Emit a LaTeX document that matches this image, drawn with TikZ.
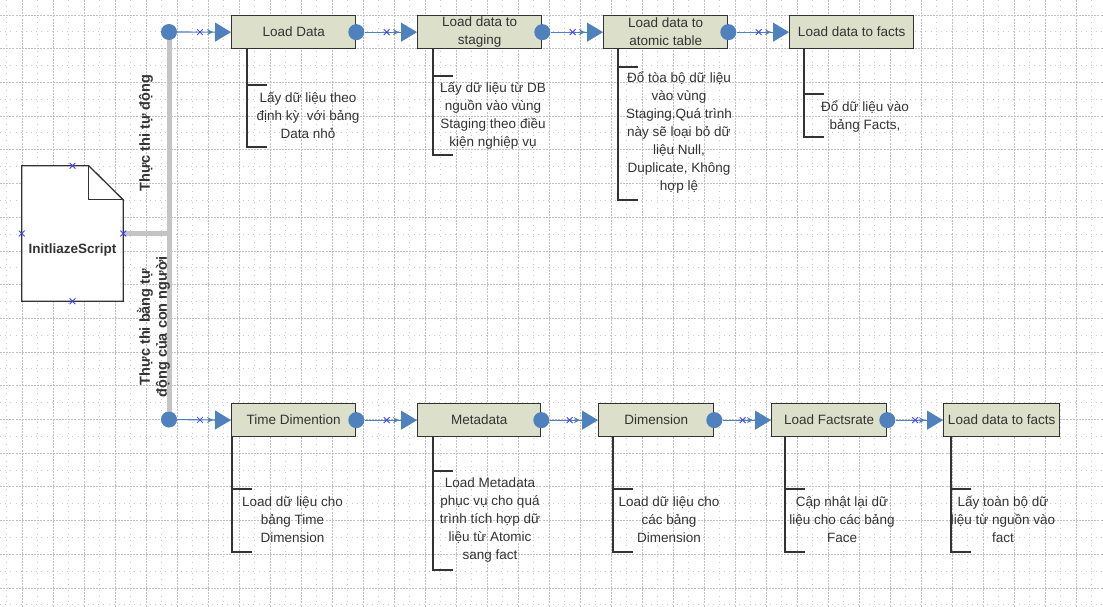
\documentclass[tikz,border=0pt]{standalone}
\usepackage{fontspec}
\setmainfont{Liberation Sans}
\usetikzlibrary{arrows.meta,shapes.misc,calc}

\definecolor{boxfill}{HTML}{DCDFC9}
\definecolor{flowblue}{HTML}{4F81BD}
\definecolor{ink}{HTML}{333333}
\definecolor{railgray}{HTML}{C4C4C4}
\definecolor{gridline}{HTML}{C0C0C0}
\definecolor{griddot}{HTML}{CACACA}
\definecolor{markblue}{HTML}{4040FF}

\begin{document}
\begin{tikzpicture}[x=1pt,y=-1pt,
  font=\fontsize{13.5}{18}\selectfont,
  gridmajor/.style={draw=gridline, line width=0.8pt, dash pattern=on 2pt off 1.1pt},
  gridminorh/.style={draw=griddot, line width=0.9pt, dash pattern=on 1pt off 4.17pt},
  gridminorv/.style={draw=griddot, line width=0.9pt, dash pattern=on 1pt off 4.62pt},
  task/.style={draw=ink, line width=1.3pt, fill=boxfill, text=ink, minimum height=33pt,
               inner sep=0pt, anchor=north west, align=center},
  port/.style={circle, fill=flowblue, minimum size=16pt, inner sep=0pt},
  flow/.style={draw=flowblue, line width=1.1pt,
               -{Stealth[length=6pt,width=6pt,sep=2pt]Triangle[length=16pt,width=19pt]}},
  xmark/.style={cross out, draw=markblue, line width=0.8pt, minimum size=5pt, inner sep=0pt},
  bracket/.style={draw=ink, line width=1.3pt},
  note/.style={text=ink, align=center, inner sep=0pt},
  rail/.style={draw=railgray, line width=5pt},
  sidelabel/.style={font=\fontsize{14.5}{17}\selectfont\bfseries, text=ink, rotate=90,
                    align=center, inner sep=0pt}
]
\useasboundingbox (0,0) rectangle (1103,607);
\fill[white] (0,0) rectangle (1103,607);

% background grid
\foreach \k in {0,...,35} \draw[gridminorv] ({6.5+31*\k},0) -- ({6.5+31*\k},607);
\foreach \k in {0,...,17} \draw[gridminorh] (0,{31.85+33.7*\k}) -- (1103,{31.85+33.7*\k});
\foreach \k in {0,...,34} \draw[gridmajor] ({22+31*\k},0) -- ({22+31*\k},607);
\foreach \k in {0,...,17} \draw[gridmajor] (0,{15+33.7*\k}) -- (1103,{15+33.7*\k});

% start points of the two flows and the rail joining them
\coordinate (s0) at (169,32);
\coordinate (s1) at (169,419.5);
\node[minimum width=101pt, minimum height=135pt, inner sep=0pt] (doc) at (72.5,233.5) {};
\draw[rail] (s0) -- (s1);
\draw[rail] (doc.east) -- (doc.east -| s0);

% script document
\draw[draw=ink, line width=1.3pt, fill=white, line join=miter]
  (doc.north west) -- ++(67,0) -- ($(doc.north east)+(0,34)$) -- (doc.south east)
  -- (doc.south west) -- cycle;
\draw[draw=ink, line width=1.3pt] ($(doc.north west)+(67,0)$) -- ++(0,34) -- ++(34,0);
\node[font=\fontsize{13.5}{16}\selectfont\bfseries, text=ink] (doctext) at (72.5,250) {InitliazeScript};
\node[xmark] (dn) at (doc.north) {};
\node[xmark] (dw) at (doc.west) {};
\node[xmark] (de) at (doc.east) {};
\node[xmark] (ds) at (doc.south) {};

% side labels
\node[sidelabel] (auto) at (146,133) {Thực thi tự động};
\node[sidelabel] (manual) at (153.5,327) {Thực thi bằng tự\\động của con người};

% upper flow
\node[task, minimum width=124pt] (b1) at (231,15) {Load Data};
\node[task, minimum width=124pt] (b2) at (417,15) {Load data to\\staging};
\node[task, minimum width=124pt] (b3) at (603,15) {Load data to\\atomic table};
\node[task, minimum width=124pt] (b4) at (789,15) {Load data to facts};

\node[port] (p0) at (s0) {};
\node[port] (p1) at (b1.east) {};
\node[port] (p2) at (b2.east) {};
\node[port] (p3) at (b3.east) {};

\draw[flow] (p0) -- (b1.west);
\draw[flow] (p1) -- (b2.west);
\draw[flow] (p2) -- (b3.west);
\draw[flow] (p3) -- (b4.west);
\node[xmark] (x1) at ($(p0.center)!0.5!(b1.west)$) {};
\node[xmark] (x2) at ($(p1.center)!0.5!(b2.west)$) {};
\node[xmark] (x3) at ($(p2.center)!0.5!(b3.west)$) {};
\node[xmark] (x4) at ($(p3.center)!0.5!(b4.west)$) {};

% lower flow
\node[task, minimum width=124pt] (c1) at (231,403) {Time Dimention};
\node[task, minimum width=123pt] (c2) at (417,403) {Metadata};
\node[task, minimum width=115pt] (c3) at (598,403) {Dimension};
\node[task, minimum width=115pt] (c4) at (771,403) {Load Factsrate};
\node[task, minimum width=116pt] (c5) at (943,403) {Load data to facts};

\node[port] (q0) at (s1) {};
\node[port] (q1) at (c1.east) {};
\node[port] (q2) at (c2.east) {};
\node[port] (q3) at (c3.east) {};
\node[port] (q4) at (c4.east) {};

\draw[flow] (q0) -- (c1.west);
\draw[flow] (q1) -- (c2.west);
\draw[flow] (q2) -- (c3.west);
\draw[flow] (q3) -- (c4.west);
\draw[flow] (q4) -- (c5.west);
\node[xmark] (y1) at ($(q0.center)!0.5!(c1.west)$) {};
\node[xmark] (y2) at ($(q1.center)!0.5!(c2.west)$) {};
\node[xmark] (y3) at ($(q2.center)!0.5!(c3.west)$) {};
\node[xmark] (y4) at ($(q3.center)!0.5!(c4.west)$) {};
\node[xmark] (y5) at ($(q4.center)!0.5!(c5.west)$) {};

% annotations of the upper flow
\draw[bracket] ([xshift=16pt]b1.south west) -- (247,147) -- (267,147);
\draw[bracket] (247,85) -- (267,85);
\node[note] (n1) at (308,115) {Lấy dữ liệu theo\\định kỳ\ \ với bảng\\Data nhỏ};

\draw[bracket] ([xshift=16pt]b2.south west) -- (433,155) -- (453,155);
\draw[bracket] (433,76) -- (453,76);
\node[note] (n2) at (493,116) {Lấy dữ liệu từ DB\\nguồn vào vùng\\Staging theo điều\\kiện nghiệp vụ};

\draw[bracket] ([xshift=15pt]b3.south west) -- (618,200) -- (638,200);
\draw[bracket] (618,67) -- (638,67);
\node[note] (n3) at (679,132.5) {Đổ tòa bộ dữ liệu\\vào vùng\\Staging.Quá trình\\này sẽ loại bỏ dữ\\liệu Null,\\Duplicate, Không\\hợp lệ};

\draw[bracket] ([xshift=15pt]b4.south west) -- (804,137) -- (824,137);
\draw[bracket] (804,94) -- (824,94);
\node[note] (n4) at (865,116) {Đổ dữ liệu vào\\bảng Facts,};

% annotations of the lower flow
\draw[bracket] ([xshift=1pt]c1.south west) -- (232,552) -- (252,552);
\draw[bracket] (232,489) -- (252,489);
\node[note] (m1) at (292.5,519.5) {Load dữ liệu cho\\bảng Time\\Dimension};

\draw[bracket] ([xshift=16pt]c2.south west) -- (433,570) -- (453,570);
\draw[bracket] (433,471) -- (453,471);
\node[note] (m2) at (490,520) {Load Metadata\\phục vụ cho quá\\trình tích hợp dữ\\liệu từ Atomic\\sang fact};

\draw[bracket] ([xshift=15pt]c3.south west) -- (613,552) -- (633,552);
\draw[bracket] (613,489) -- (633,489);
\node[note] (m3) at (669,519.5) {Load dữ liệu cho\\các bảng\\Dimension};

\draw[bracket] ([xshift=14pt]c4.south west) -- (785,552) -- (805,552);
\draw[bracket] (785,489) -- (805,489);
\node[note] (m4) at (842,519.5) {Cập nhật lại dữ\\liệu cho các bảng\\Face};

\draw[bracket] ([xshift=8pt]c5.south west) -- (951,552) -- (971,552);
\draw[bracket] (951,489) -- (971,489);
\node[note] (m5) at (1003,519.5) {Lấy toàn bộ dữ\\liệu từ nguồn vào\\fact};
\end{tikzpicture}
\end{document}
